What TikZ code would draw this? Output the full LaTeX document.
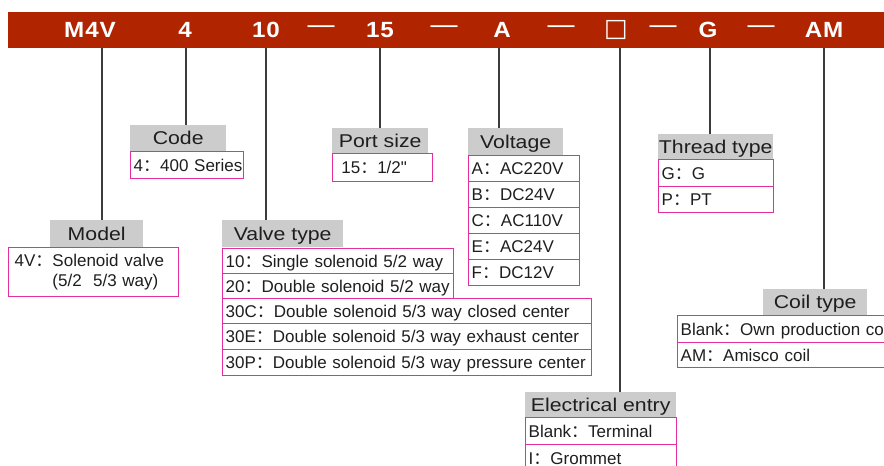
\documentclass[tikz,border=0pt]{standalone}
\usepackage{fontspec}
\setmainfont{Liberation Sans}
\newfontfamily\barfont[FakeStretch=1.1,LetterSpace=4]{Liberation Sans}
\newfontfamily\hdrfont[FakeStretch=1.15]{Liberation Sans}
\newfontfamily\cjk{Noto Sans CJK SC}
\newfontfamily\symfont{DejaVu Sans}
\newcommand{\cc}{{\cjk ：}}
\definecolor{barred}{RGB}{176,36,0}
\definecolor{hdrgray}{RGB}{204,204,204}
\definecolor{pinkc}{RGB}{228,45,160}
\definecolor{txt}{RGB}{30,30,30}
\definecolor{lnc}{RGB}{60,60,60}
\begin{document}
\begin{tikzpicture}[x=1pt,y=-1pt,
  bar/.style={fill=barred, draw=none, anchor=north west, inner sep=0pt},
  bartxt/.style={text=white, inner sep=0pt, font=\barfont\bfseries\fontsize{22}{24}\selectfont},
  bardash/.style={text=white, inner sep=0pt, font=\fontsize{27}{28}\selectfont},
  hdr/.style={fill=hdrgray, anchor=north west, inner sep=0pt, text=txt,
    font=\hdrfont\fontsize{18.5}{20}\selectfont, text height=13pt, text depth=0pt},
  row/.style={draw=pinkc, line width=1.4pt, anchor=north west, inner xsep=3pt, inner ysep=0pt,
    text=txt, font=\fontsize{17}{20}\selectfont, align=left, text height=12pt, text depth=0pt},
  conn/.style={draw=lnc, line width=1.2pt}]
\useasboundingbox (0,0) rectangle (884,466);
\clip (0,0) rectangle (884,466);
% top bar
\node[bar, minimum width=900pt, minimum height=36pt] (bar) at (8,12) {};
\node[bartxt] (bM4V) at (90,30) {M4V};
\node[bartxt] (b4) at (185,30) {4};
\node[bartxt] (b10) at (266,30) {10};
\node[bardash] (d1) at (321,30) {—};
\node[bartxt] (b15) at (380,30) {15};
\node[bardash] (d2) at (444,30) {—};
\node[bartxt] (bA) at (502,30) {A};
\node[bardash] (d3) at (561,30) {—};
\node[text=white, inner sep=0pt, font=\symfont\fontsize{25}{28}\selectfont] (bBox) at (616,30) {□};
\node[bardash] (d4) at (663,30) {—};
\node[bartxt] (bG) at (708,30) {G};
\node[bardash] (d5) at (761,30) {—};
\node[bartxt] (bAM) at (824,30) {AM};
% Code
\node[hdr, minimum width=96pt, minimum height=26pt] (hCode) at (130,125) {Code};
\node[row, text width=107pt, minimum height=27pt] (rCode) at (130,151) {\mbox{4\cc 400 Series}};
% Model
\node[draw=pinkc, line width=1.4pt, anchor=north west, inner xsep=6pt, inner ysep=0pt, text=txt,
  font=\fontsize{17}{20}\selectfont, align=left, text width=158pt, minimum height=49pt] (rModel) at (8,247)
  {4V\cc Solenoid valve\\\phantom{4V\cc}(5/2\ \ 5/3 way)};
\node[hdr, minimum width=93pt, minimum height=27pt] (hModel) at (50,220) {Model};
% Valve type
\node[hdr, minimum width=121pt, minimum height=27pt] (hValve) at (222,220) {Valve type};
\node[row, text width=225pt, minimum height=25pt] (rV1) at (222,248) {\mbox{10\cc Single solenoid 5/2 way}};
\node[row, text width=225pt, minimum height=25pt] (rV2) at (222,273) {\mbox{20\cc Double solenoid 5/2 way}};
\node[row, text width=363pt, minimum height=25pt] (rV3) at (222,298) {\mbox{30C\cc Double solenoid 5/3 way closed center}};
\node[row, text width=363pt, minimum height=26pt] (rV4) at (222,323) {\mbox{30E\cc Double solenoid 5/3 way exhaust center}};
\node[row, text width=363pt, minimum height=26pt] (rV5) at (222,349) {\mbox{30P\cc Double solenoid 5/3 way pressure center}};
% Port size
\node[hdr, minimum width=96pt, minimum height=25pt] (hPort) at (332,128) {Port size};
\node[row, text width=94pt, minimum height=28pt] (rPort) at (332,153) {\mbox{\ 15\cc 1/2\textquotedbl}};
% Voltage
\node[hdr, minimum width=95pt, minimum height=27pt] (hVolt) at (468,128) {Voltage};
\node[row, text width=105pt, minimum height=26pt] (rA) at (468,155) {A\cc AC220V};
\node[row, text width=105pt, minimum height=26pt] (rB) at (468,181) {B\cc DC24V};
\node[row, text width=105pt, minimum height=26pt] (rC) at (468,207) {C\cc AC110V};
\node[row, text width=105pt, minimum height=26pt] (rE) at (468,233) {E\cc AC24V};
\node[row, text width=105pt, minimum height=26pt] (rF) at (468,259) {F\cc DC12V};
% Thread type
\node[hdr, minimum width=115pt, minimum height=25pt] (hThread) at (658,134) {Thread type};
\node[row, text width=109pt, minimum height=27pt] (rG) at (658,159) {G\cc G};
\node[row, text width=109pt, minimum height=26pt] (rP) at (658,186) {P\cc PT};
% Coil type
\node[hdr, minimum width=104pt, minimum height=26pt] (hCoil) at (763,289) {Coil type};
\node[row, text width=224pt, minimum height=27pt] (rCoil1) at (677,315) {\mbox{Blank\cc Own production coil}};
\node[row, text width=224pt, minimum height=25pt] (rCoil2) at (677,342) {\mbox{AM\cc Amisco coil}};
% Electrical entry
\node[hdr, minimum width=151pt, minimum height=25pt] (hElec) at (525,392) {Electrical entry};
\node[row, text width=145pt, minimum height=27pt] (rEl1) at (525,417) {\mbox{Blank\cc Terminal}};
\node[row, text width=145pt, minimum height=27pt] (rEl2) at (525,444) {\mbox{I\cc Grommet}};
% connectors
\coordinate (c1) at (102,48);
\coordinate (c2) at (186,48);
\coordinate (c3) at (266,48);
\coordinate (c4) at (380,48);
\coordinate (c5) at (499,48);
\coordinate (c6) at (620,48);
\coordinate (c7) at (710,48);
\coordinate (c8) at (824,48);
\draw[conn] (c1) -- (c1 |- hModel.north);
\draw[conn] (c2) -- (c2 |- hCode.north);
\draw[conn] (c3) -- (c3 |- hValve.north);
\draw[conn] (c4) -- (c4 |- hPort.north);
\draw[conn] (c5) -- (c5 |- hVolt.north);
\draw[conn] (c6) -- (c6 |- hElec.north);
\draw[conn] (c7) -- (c7 |- hThread.north);
\draw[conn] (c8) -- (c8 |- hCoil.north);
\end{tikzpicture}
\end{document}
